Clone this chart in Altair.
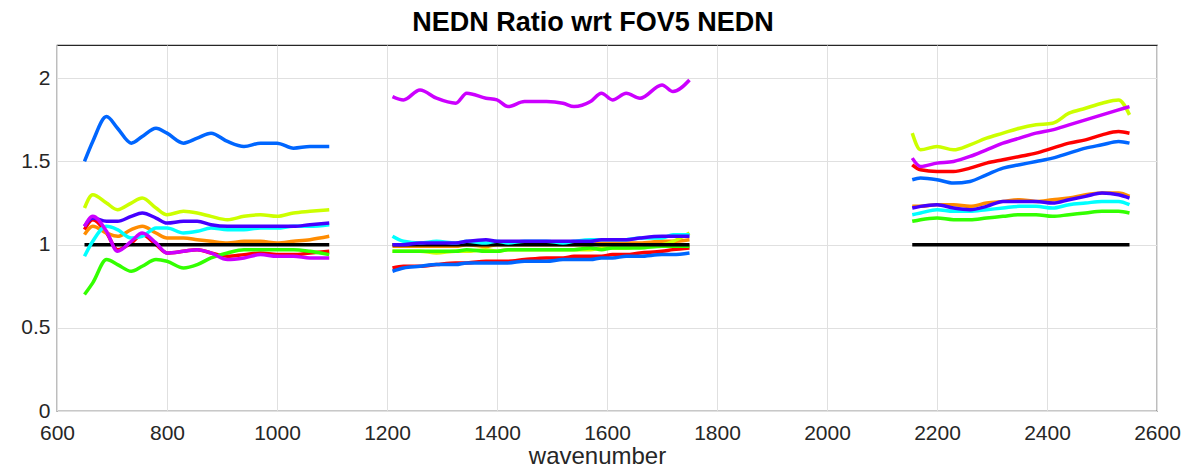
import altair as alt
import pandas as pd

FOVS = ["FOV1", "FOV2", "FOV3", "FOV4", "FOV5", "FOV6", "FOV7", "FOV8", "FOV9"]
COLORS = ["#ff0000", "#ff8c00", "#ccff00", "#33ff00", "#000000",
          "#00ffff", "#0066ff", "#4400ff", "#cc00ff"]

# Long-wave band
LW_X = [650, 665, 690, 710, 735, 755, 780, 800, 830, 855, 880, 910, 940, 970, 1000, 1030, 1060, 1095]
LW = {
    "FOV1": [1.09, 1.15, 1.07, 0.97, 1.01, 1.06, 1.00, 0.95, 0.96, 0.97, 0.95, 0.93, 0.94, 0.95, 0.94, 0.94, 0.95, 0.96],
    "FOV2": [1.06, 1.11, 1.07, 1.05, 1.09, 1.11, 1.07, 1.04, 1.04, 1.03, 1.02, 1.01, 1.02, 1.02, 1.01, 1.02, 1.03, 1.05],
    "FOV3": [1.22, 1.30, 1.25, 1.21, 1.25, 1.28, 1.22, 1.18, 1.20, 1.19, 1.17, 1.15, 1.17, 1.18, 1.17, 1.19, 1.20, 1.21],
    "FOV4": [0.70, 0.77, 0.91, 0.88, 0.84, 0.87, 0.91, 0.90, 0.86, 0.88, 0.92, 0.95, 0.97, 0.97, 0.97, 0.97, 0.96, 0.94],
    "FOV5": [1.00] * 18,
    "FOV6": [0.93, 1.02, 1.11, 1.09, 1.04, 1.05, 1.10, 1.10, 1.07, 1.08, 1.10, 1.09, 1.09, 1.10, 1.10, 1.11, 1.11, 1.12],
    "FOV7": [1.50, 1.62, 1.77, 1.70, 1.61, 1.65, 1.70, 1.67, 1.61, 1.64, 1.67, 1.62, 1.59, 1.61, 1.61, 1.58, 1.59, 1.59],
    "FOV8": [1.11, 1.16, 1.14, 1.14, 1.17, 1.19, 1.16, 1.13, 1.14, 1.14, 1.12, 1.11, 1.11, 1.11, 1.11, 1.11, 1.12, 1.13],
    "FOV9": [1.11, 1.17, 1.08, 0.96, 1.02, 1.07, 1.01, 0.95, 0.96, 0.97, 0.95, 0.91, 0.92, 0.94, 0.93, 0.93, 0.92, 0.92],
}

# Mid-wave band
MW_X = [1210, 1230, 1260, 1290, 1325, 1345, 1380, 1400, 1420, 1450, 1490, 1520, 1540, 1570, 1590, 1610, 1635, 1660, 1700, 1720, 1750]
MW = {
    "FOV1": [0.86, 0.87, 0.87, 0.88, 0.89, 0.89, 0.90, 0.90, 0.90, 0.91, 0.92, 0.92, 0.93, 0.93, 0.93, 0.94, 0.94, 0.95, 0.96, 0.97, 0.98],
    "FOV2": [0.99, 0.99, 0.99, 0.99, 0.99, 1.00, 0.99, 1.00, 1.00, 1.00, 1.00, 1.00, 1.00, 1.00, 1.01, 1.01, 1.01, 1.01, 1.02, 1.02, 1.03],
    "FOV3": [0.96, 0.96, 0.96, 0.95, 0.96, 0.96, 0.97, 0.96, 0.97, 0.97, 0.97, 0.97, 0.97, 0.97, 0.98, 0.98, 0.98, 0.99, 1.00, 1.02, 1.07],
    "FOV4": [0.96, 0.96, 0.96, 0.96, 0.96, 0.97, 0.96, 0.96, 0.97, 0.97, 0.97, 0.97, 0.97, 0.98, 0.97, 0.98, 0.98, 0.98, 0.99, 0.99, 0.99],
    "FOV5": [1.00] * 21,
    "FOV6": [1.05, 1.02, 1.01, 1.02, 1.01, 1.02, 1.01, 1.02, 1.01, 1.02, 1.02, 1.01, 1.02, 1.03, 1.03, 1.03, 1.03, 1.04, 1.04, 1.06, 1.06],
    "FOV7": [0.84, 0.86, 0.87, 0.88, 0.88, 0.89, 0.89, 0.89, 0.89, 0.90, 0.90, 0.91, 0.91, 0.91, 0.92, 0.92, 0.93, 0.93, 0.94, 0.94, 0.95],
    "FOV8": [1.00, 1.00, 1.01, 1.01, 1.01, 1.02, 1.03, 1.02, 1.02, 1.02, 1.02, 1.02, 1.02, 1.02, 1.03, 1.03, 1.03, 1.04, 1.05, 1.05, 1.05],
    "FOV9": [1.89, 1.87, 1.93, 1.88, 1.85, 1.91, 1.88, 1.87, 1.83, 1.86, 1.86, 1.85, 1.83, 1.86, 1.91, 1.87, 1.91, 1.88, 1.96, 1.92, 1.99],
}

# Short-wave band
SW_X = [2155, 2170, 2200, 2230, 2260, 2290, 2320, 2350, 2380, 2410, 2440, 2470, 2500, 2530, 2550]
SW = {
    "FOV1": [1.48, 1.45, 1.44, 1.44, 1.46, 1.49, 1.51, 1.53, 1.55, 1.58, 1.61, 1.63, 1.66, 1.68, 1.67],
    "FOV2": [1.23, 1.23, 1.24, 1.24, 1.23, 1.25, 1.26, 1.27, 1.26, 1.27, 1.28, 1.30, 1.31, 1.31, 1.29],
    "FOV3": [1.67, 1.57, 1.59, 1.57, 1.60, 1.64, 1.67, 1.70, 1.72, 1.73, 1.79, 1.82, 1.85, 1.87, 1.78],
    "FOV4": [1.14, 1.15, 1.16, 1.15, 1.15, 1.16, 1.17, 1.18, 1.18, 1.17, 1.18, 1.19, 1.20, 1.20, 1.19],
    "FOV5": [1.00] * 15,
    "FOV6": [1.18, 1.19, 1.21, 1.20, 1.20, 1.21, 1.22, 1.23, 1.23, 1.22, 1.24, 1.25, 1.26, 1.26, 1.24],
    "FOV7": [1.39, 1.40, 1.39, 1.37, 1.38, 1.42, 1.46, 1.48, 1.50, 1.52, 1.55, 1.58, 1.60, 1.62, 1.61],
    "FOV8": [1.22, 1.23, 1.24, 1.22, 1.21, 1.23, 1.26, 1.26, 1.26, 1.25, 1.27, 1.29, 1.31, 1.30, 1.28],
    "FOV9": [1.52, 1.47, 1.49, 1.50, 1.53, 1.57, 1.61, 1.64, 1.67, 1.69, 1.72, 1.75, 1.78, 1.81, 1.83],
}

rows = []
for fi, fov in enumerate(FOVS):
    for band, xs, vals in (("LW", LW_X, LW), ("MW", MW_X, MW), ("SW", SW_X, SW)):
        for i, (x, y) in enumerate(zip(xs, vals[fov])):
            rows.append({"fov": fov, "band": band, "wn": x, "ratio": y,
                         "ord": fi, "seg": f"{fi}-{band}", "i": i})
df = pd.DataFrame(rows)

FONT = "Liberation Sans, Arial, sans-serif"

chart = alt.Chart(df).mark_line(strokeWidth=3.5, interpolate="monotone").encode(
    x=alt.X("wn:Q", title="wavenumber",
            scale=alt.Scale(domain=[600, 2600], nice=False, zero=False),
            axis=alt.Axis(values=list(range(600, 2601, 200)), format="d",
                          labelFlush=False, titleX=540)),
    y=alt.Y("ratio:Q", title=None,
            scale=alt.Scale(domain=[0, 2.2], nice=False),
            axis=alt.Axis(values=[0, 0.5, 1, 1.5, 2], format="~g", labelFlush=False)),
    color=alt.Color("fov:N", scale=alt.Scale(domain=FOVS, range=COLORS), legend=None),
    detail="seg:N",
    order="i:Q",
).properties(
    width=1100, height=366,
    title=alt.Title("NEDN Ratio wrt FOV5 NEDN", fontSize=27, fontWeight="bold",
                    font=FONT, color="#000000", offset=8, dx=-14),
    autosize=alt.AutoSizeParams(type="none"),
    padding={"left": 57, "top": 45, "right": 32, "bottom": 62},
).configure_view(
    stroke="#262626", strokeWidth=1.2
).configure_axis(
    grid=True, gridColor="#e0e0e0", gridWidth=1,
    domain=False, ticks=False,
    labelFont=FONT, labelFontSize=21, labelColor="#262626",
    titleFont=FONT, titleFontSize=24, titleColor="#262626", titleFontWeight="normal",
).configure_axisX(
    labelPadding=11, titlePadding=1,
).configure_axisY(
    labelPadding=7,
)

chart.save("out.html", embed_options={"renderer": "svg", "actions": False})
